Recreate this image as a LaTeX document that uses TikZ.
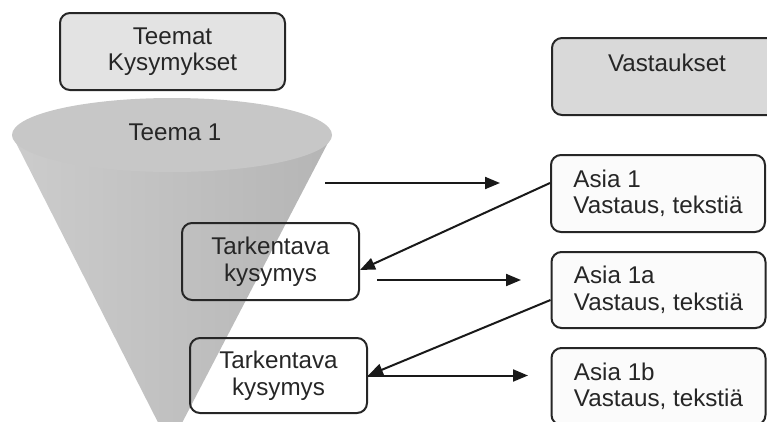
\documentclass[tikz,border=0pt]{standalone}
\usepackage{fontspec}
\setmainfont{Liberation Sans}
\usetikzlibrary{arrows.meta}
\begin{document}
\begin{tikzpicture}[x=1pt,y=-1pt,
 lbl/.style={font=\fontsize{24.2}{26.5}\selectfont,text=black!85},
 box/.style={lbl,draw=black!85,line width=2pt,rounded corners=10pt,inner sep=0pt},
 arr/.style={draw=black!90,line width=2pt,-{Triangle[length=15pt,width=12pt]}}]
\useasboundingbox (0,0) rectangle (767,421);
\clip (0,0) rectangle (767,421);
% top left header
\node[box,fill=gray!22,minimum width=225pt,minimum height=77pt,align=center] (teemat) at (172.5,51.5) {Teemat\\Kysymykset};
% funnel
\shade[left color=gray!40,middle color=gray!75,right color=gray!58] (12,135) -- (170,446) -- (332,135) -- cycle;
\fill[gray!44] (172,135) ellipse [x radius=160pt, y radius=37pt];
\node[lbl] (teema) at (175,132) {Teema 1};
% question boxes
\node[box,minimum width=177pt,minimum height=77pt,align=center] (t1) at (270.5,261.5) {Tarkentava\\kysymys};
\node[box,minimum width=177pt,minimum height=75pt,align=center] (t2) at (278.5,375.5) {Tarkentava\\kysymys};
% answers header
\node[box,fill=gray!30,minimum width=230pt,minimum height=77pt,align=center] (vast) at (667,76.5) {Vastaukset\\[-6pt]\strut};
% answer boxes
\node[box,fill=gray!3,minimum width=214pt,minimum height=77pt,align=left] (a1) at (658,193.5) {Asia 1\\Vastaus, tekstiä};
\node[box,fill=gray!3,minimum width=214pt,minimum height=76pt,align=left] (a1a) at (658.5,290) {Asia 1a\\Vastaus, tekstiä};
\node[box,fill=gray!3,minimum width=214pt,minimum height=77pt,align=left] (a1b) at (658.5,386.5) {Asia 1b\\Vastaus, tekstiä};
% arrows
\coordinate (s1) at (325,183);
\coordinate (e1) at (500,183);
\draw[arr] (s1) -- (e1);
\draw[arr] ([yshift=10.5pt]a1.west) -- ([yshift=-8.5pt]t1.east);
\coordinate (s3) at (377,280);
\coordinate (e3) at (521,280);
\draw[arr] (s3) -- (e3);
\draw[arr] ([yshift=-10pt]a1a.west) -- (t2.east);
\coordinate (e5) at (528,375.5);
\draw[arr] (t2.east) -- (e5);
\end{tikzpicture}
\end{document}
